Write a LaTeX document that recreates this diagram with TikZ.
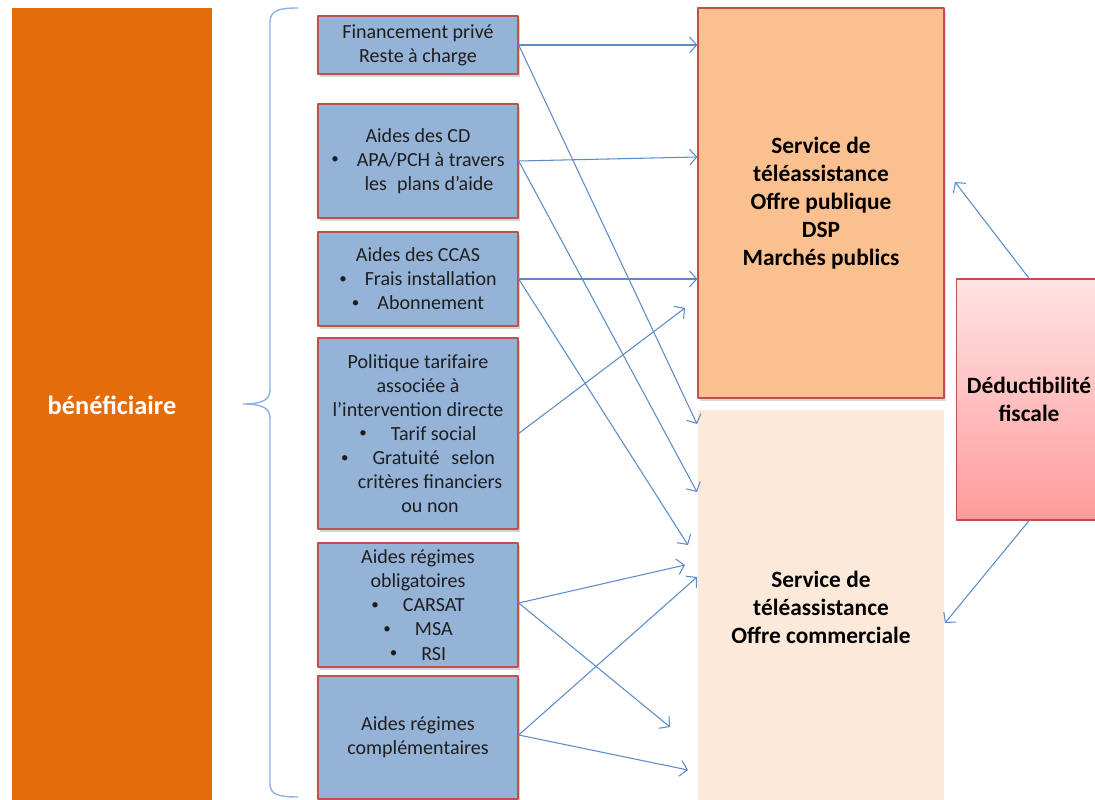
\documentclass[tikz,border=0pt]{standalone}
\usepackage{fontspec}
\setmainfont{Carlito}
\usetikzlibrary{arrows.meta,shadows}
\definecolor{benefcol}{RGB}{228,108,10}
\definecolor{aidfill}{RGB}{149,179,215}
\definecolor{aiddraw}{RGB}{192,80,77}
\definecolor{pubfill}{RGB}{250,192,144}
\definecolor{comfill}{RGB}{253,233,217}
\definecolor{dedtop}{RGB}{255,228,228}
\definecolor{dedbot}{RGB}{255,155,155}
\definecolor{flowcol}{RGB}{91,139,201}
\definecolor{bracecol}{RGB}{141,179,226}
\definecolor{txtcol}{RGB}{30,30,30}
\newcommand{\bul}{\raisebox{0.12em}{\scalebox{0.75}{\textbullet}}}
\tikzset{
    boxtxt/.style={
        font=\fontsize{11.4}{13.7}\selectfont
    }
}

\begin{document}
\begin{tikzpicture}[x=0.02cm,y=-0.02cm, line cap=round, line join=round]

\tikzset{
  aid/.style={boxtxt, draw=aiddraw, fill=aidfill, line width=0.8pt, text=txtcol, align=center,
    minimum width=4cm, inner sep=2pt, drop shadow={shadow xshift=1.2pt, shadow yshift=-1.5pt, opacity=0.35}},
  serv/.style={font=\fontsize{13.3}{15.9}\selectfont\bfseries, align=center, text=black, minimum width=4.92cm},
  fl/.style={draw=flowcol, line width=0.6pt, -{Straight Barb[length=4pt,width=9pt]}},
}

\useasboundingbox (0,0) rectangle (1095,800);

% beneficiary
\node[fill=benefcol, minimum width=4cm, minimum height=15.9cm, text=white,
  font=\fontsize{15}{18}\selectfont\bfseries] (benef) at (112,405) {bénéficiaire};

% brace
\draw[bracecol, line width=0.8pt] (298,8) .. controls (280,8) and (270,10) .. (270,22) -- (270,390)
  .. controls (270,400) and (262,404) .. (243,404)
  .. controls (262,404) and (270,408) .. (270,418) -- (270,784)
  .. controls (270,795) and (280,797) .. (298,797);

% funding boxes
\node[aid, minimum height=1.16cm] (fin) at (418,45) {Financement privé\\Reste à charge};
\node[aid, minimum height=2.28cm] (cd) at (418,161) {Aides des CD\\\bul\hspace{0.9em}APA/PCH à travers\\\hspace{1.1em}les\hspace{0.5em}plans d’aide};
\node[aid, minimum height=1.88cm] (ccas) at (418,279) {Aides des CCAS\\\bul\hspace{0.9em}Frais installation\\\bul\hspace{0.9em}Abonnement};
\node[aid, minimum height=3.82cm] (tarif) at (418,433.5) {Politique tarifaire\\associée à\\l’intervention directe\\\bul\hspace{1.2em}Tarif social\\\bul\hspace{1.2em}Gratuité\hspace{0.6em}selon\\\hspace{1.2em}critères financiers\\\hspace{1.2em}ou non};
\node[aid, minimum height=2.48cm] (oblig) at (418,605) {Aides régimes\\obligatoires\\\bul\hspace{1.2em}CARSAT\\\bul\hspace{1.2em}MSA\\\bul\hspace{1.2em}RSI};
\node[aid, minimum height=2.46cm] (compl) at (418,737.5) {Aides régimes\\complémentaires};

% services
\node[serv, draw=aiddraw, fill=pubfill, line width=0.8pt, minimum height=7.8cm,
  drop shadow={shadow xshift=1.2pt, shadow yshift=-1.5pt, opacity=0.3}] (pub) at (821,203)
  {Service de\\téléassistance\\Offre publique\\DSP\\Marchés publics};
\node[serv, fill=comfill, minimum height=7.9cm] (com) at (821,607)
  {Service de\\téléassistance\\Offre commerciale};

% tax deduction
\node[serv, draw=aiddraw, top color=dedtop, bottom color=dedbot, line width=0.8pt,
  minimum width=2.9cm, minimum height=4.82cm] (ded) at (1029,399.5)
  {Déductibilité\\fiscale};

% arrow ends
\coordinate (e1) at (697,424);
\coordinate (e2) at (697,492);
\coordinate (e3) at (688,545);
\coordinate (e4) at (685,308);
\coordinate (e5) at (685,565);
\coordinate (e6) at (670,727);
\coordinate (e7) at (697,577);
\coordinate (e8) at (688,770);
\coordinate (e9) at (955,182);
\coordinate (e10) at (945,623);

% flows
\draw[fl] (fin.east) -- (fin.east -| pub.west);
\draw[fl] (fin.east) -- (e1);
\draw[fl] (cd.east) -- ([yshift=0.08cm]cd.east -| pub.west);
\draw[fl] (cd.east) -- (e2);
\draw[fl] (ccas.east) -- (ccas.east -| pub.west);
\draw[fl] (ccas.east) -- (e3);
\draw[fl] (tarif.east) -- (e4);
\draw[fl] ([yshift=0.04cm]oblig.east) -- (e5);
\draw[fl] ([yshift=0.04cm]oblig.east) -- (e6);
\draw[fl] ([yshift=0.05cm]compl.east) -- (e7);
\draw[fl] ([yshift=0.05cm]compl.east) -- (e8);
\draw[fl] (ded.north) -- (e9);
\draw[fl] (ded.south) -- (e10);

\end{tikzpicture}
\end{document}
